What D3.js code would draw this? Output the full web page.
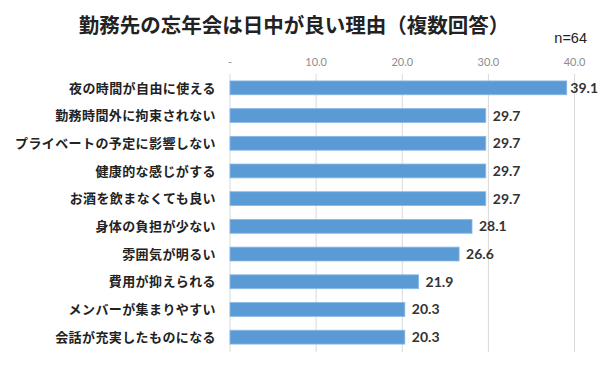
<!DOCTYPE html>
<html lang="ja">
<head>
<meta charset="utf-8">
<style>
  body { margin: 0; background: #fff; }
  text { font-family: "Noto Sans CJK JP", "Noto Sans", sans-serif; }
</style>
</head>
<body>
<script src="https://d3js.org/d3.v7.min.js"></script>
<script>
  var width = 600,
    height = 366;

  // data
  var categories = [
    "夜の時間が自由に使える",
    "勤務時間外に拘束されない",
    "プライベートの予定に影響しない",
    "健康的な感じがする",
    "お酒を飲まなくても良い",
    "身体の負担が少ない",
    "雰囲気が明るい",
    "費用が抑えられる",
    "メンバーが集まりやすい",
    "会話が充実したものになる"
  ];
  var values = [39.1, 29.7, 29.7, 29.7, 29.7, 28.1, 26.6, 21.9, 20.3, 20.3];
  var ticks = [0, 10, 20, 30, 40];
  var tickLabels = ["-", "10.0", "20.0", "30.0", "40.0"];

  var svg = d3.select("body")
    .append("svg")
    .attr("width", width)
    .attr("height", height);

  var x = d3.scaleLinear().domain([0, 40]).range([230, 574.5]);
  var y = d3.scaleBand().domain(categories).range([74, 351]).paddingInner(0.5).paddingOuter(0.25);

  // title
  svg.append("text")
    .attr("x", 294)
    .attr("y", 33)
    .attr("text-anchor", "middle")
    .attr("font-size", 20.5)
    .attr("font-weight", "bold")
    .attr("fill", "#222")
    .text("勤務先の忘年会は日中が良い理由（複数回答）");

  svg.append("text")
    .attr("x", 587)
    .attr("y", 43)
    .attr("text-anchor", "end")
    .attr("font-size", 14.5)
    .attr("fill", "#222")
    .style("font-family", "'Liberation Sans', Arial, sans-serif")
    .text("n=64");

  // grid lines
  svg.selectAll(".grid")
    .data(ticks)
    .join("line")
    .attr("class", "grid")
    .attr("x1", function (d) { return x(d); })
    .attr("x2", function (d) { return x(d); })
    .attr("y1", 74)
    .attr("y2", 352)
    .attr("stroke", "#d9d9d9")
    .attr("stroke-width", 1);

  // tick labels
  svg.selectAll(".tick")
    .data(ticks)
    .join("text")
    .attr("class", "tick")
    .attr("x", function (d) { return x(d); })
    .attr("y", 66)
    .attr("text-anchor", "middle")
    .attr("font-size", 11)
    .attr("fill", "#8c8c8c")
    .style("font-family", "Lato, sans-serif")
    .text(function (d, i) { return tickLabels[i]; });

  // bars
  svg.selectAll(".bar")
    .data(values)
    .join("rect")
    .attr("class", "bar")
    .attr("x", x(0))
    .attr("y", function (d, i) { return y(categories[i]); })
    .attr("width", function (d) { return x(d) - x(0); })
    .attr("height", y.bandwidth())
    .attr("fill", "#5b9bd5")
    .attr("stroke", "#8ab8e6")
    .attr("stroke-width", 0.8);

  // value labels (kept inside the right edge)
  svg.selectAll(".val")
    .data(values)
    .join("text")
    .attr("class", "val")
    .attr("y", function (d, i) { return y(categories[i]) + y.bandwidth() / 2; })
    .attr("dy", "0.36em")
    .attr("font-size", 14)
    .attr("font-weight", "bold")
    .attr("fill", "#333")
    .style("font-family", "Lato, sans-serif")
    .text(function (d) { return d.toFixed(1); })
    .attr("x", function (d) {
      var w = this.getComputedTextLength();
      return Math.min(x(d) + 7, 598 - w);
    });

  // category labels
  svg.selectAll(".cat")
    .data(categories)
    .join("text")
    .attr("class", "cat")
    .attr("x", 216)
    .attr("y", function (d) { return y(d) + y.bandwidth() / 2; })
    .attr("dy", "0.36em")
    .attr("text-anchor", "end")
    .attr("font-size", 13)
    .attr("font-weight", "bold")
    .attr("letter-spacing", 0.4)
    .attr("fill", "#222")
    .text(function (d) { return d; });
</script>
</body>
</html>
